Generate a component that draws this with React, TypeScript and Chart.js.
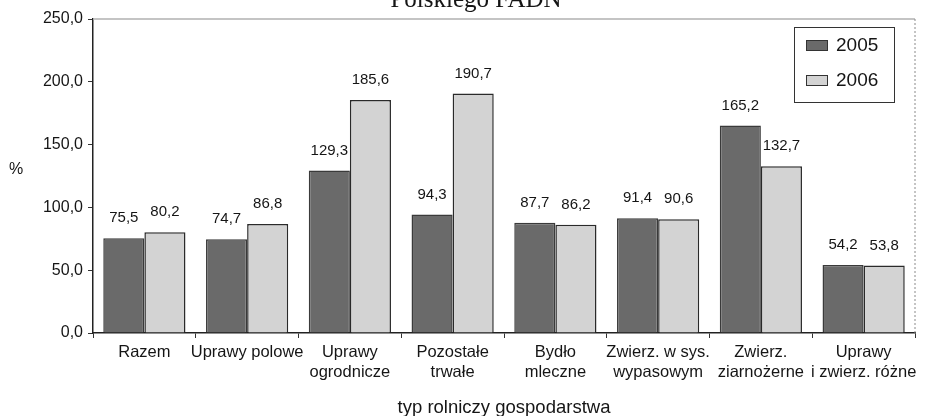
import React, { useEffect, useRef } from 'react';
import { Chart, registerables } from 'chart.js';

Chart.register(...registerables);

const categories: string[][] = [
  ['Razem'],
  ['Uprawy polowe'],
  ['Uprawy', 'ogrodnicze'],
  ['Pozostałe', 'trwałe'],
  ['Bydło', 'mleczne'],
  ['Zwierz. w sys.', 'wypasowym'],
  ['Zwierz.', 'ziarnożerne'],
  ['Uprawy', 'i zwierz. różne'],
];
const seriesNames = ['2005', '2006'];
const values2005 = [75.5, 74.7, 129.3, 94.3, 87.7, 91.4, 165.2, 54.2];
const values2006 = [80.2, 86.8, 185.6, 190.7, 86.2, 90.6, 132.7, 53.8];
const yMin = 0;
const yMax = 250;
const yStep = 50;
const titleText = 'Polskiego FADN';
const yTitle = '%';
const xTitle = 'typ rolniczy gospodarstwa';

const FONT = '"Liberation Sans", Arial, sans-serif';
const DARK = '#6a6a6a';
const LIGHT = '#d3d3d3';
const TEXT = '#151515';
const fmt = (v: number) => Number(v).toFixed(1).replace('.', ',');

const decor = {
  id: 'decor',
  afterDraw(chart: any) {
    const { ctx, chartArea: a } = chart;
    ctx.save();
    // title (cut at the top)
    ctx.fillStyle = TEXT;
    ctx.font = '25px "Liberation Serif", serif';
    ctx.textAlign = 'center';
    ctx.textBaseline = 'alphabetic';
    ctx.fillText(titleText, 476, 7);
    // y title
    ctx.font = `16px ${FONT}`;
    ctx.textBaseline = 'middle';
    ctx.fillText(yTitle, 16, 170);
    // top border
    ctx.strokeStyle = '#b0b0b0';
    ctx.lineWidth = 1.5;
    ctx.beginPath();
    ctx.moveTo(a.left, a.top);
    ctx.lineTo(a.right, a.top);
    ctx.stroke();
    // right border dotted
    ctx.strokeStyle = '#8a8a8a';
    ctx.lineWidth = 1;
    ctx.setLineDash([2, 2]);
    ctx.beginPath();
    ctx.moveTo(a.right, a.top);
    ctx.lineTo(a.right, a.bottom);
    ctx.stroke();
    ctx.setLineDash([]);
    // data labels
    ctx.font = `15px ${FONT}`;
    ctx.fillStyle = TEXT;
    ctx.textAlign = 'center';
    ctx.textBaseline = 'middle';
    chart.data.datasets.forEach((ds: any, i: number) => {
      const meta = chart.getDatasetMeta(i);
      meta.data.forEach((el: any, j: number) => {
        ctx.fillText(fmt(ds.data[j]), el.x, el.y - 20);
      });
    });
    // legend
    const lx = 794, ly = 27, lw = 100, lh = 75;
    ctx.fillStyle = '#fff';
    ctx.fillRect(lx, ly, lw, lh);
    ctx.strokeStyle = '#333';
    ctx.lineWidth = 1;
    ctx.strokeRect(lx + 0.5, ly + 0.5, lw, lh);
    ctx.font = `19px ${FONT}`;
    ctx.textAlign = 'left';
    chart.data.datasets.forEach((ds: any, i: number) => {
      const cy = 45 + i * 35;
      ctx.fillStyle = ds.backgroundColor;
      ctx.fillRect(806, cy - 5, 22, 10);
      ctx.strokeStyle = '#333';
      ctx.strokeRect(806.5, cy - 4.5, 21, 10);
      ctx.fillStyle = TEXT;
      ctx.fillText(ds.label, 836, cy + 1);
    });
    ctx.restore();
  },
};

export default function App() {
  const ref = useRef<HTMLCanvasElement | null>(null);
  useEffect(() => {
    if (!ref.current) return;
    const chart = new Chart(ref.current, {
      type: 'bar',
      data: {
        labels: categories,
        datasets: [
          {
            label: seriesNames[0],
            data: values2005,
            backgroundColor: DARK,
            borderColor: '#3a3a3a',
            borderWidth: 1.5,
            categoryPercentage: 0.8,
            barPercentage: 1.0,
          },
          {
            label: seriesNames[1],
            data: values2006,
            backgroundColor: LIGHT,
            borderColor: '#2a2a2a',
            borderWidth: 1.5,
            categoryPercentage: 0.8,
            barPercentage: 1.0,
          },
        ],
      },
      options: {
        animation: false,
        responsive: true,
        maintainAspectRatio: false,
        layout: { padding: { top: 19, right: 19, left: 0, bottom: 0 } },
        plugins: {
          legend: { display: false },
          tooltip: { enabled: false },
          title: { display: false },
        },
        scales: {
          x: {
            offset: true,
            grid: {
              offset: true,
              drawOnChartArea: false,
              drawTicks: true,
              tickLength: 5,
              color: '#333',
              tickColor: '#333',
            },
            border: { display: true, color: '#222', width: 1.5 },
            ticks: {
              font: { family: FONT, size: 16.5, lineHeight: 1.18 },
              color: TEXT,
              padding: 5,
              maxRotation: 0,
              autoSkip: false,
            },
            title: {
              display: true,
              text: xTitle,
              font: { family: FONT, size: 18.5 },
              color: TEXT,
              padding: { top: 4, bottom: -3 },
            },
            afterFit: (s: any) => {
              s.height = 83;
            },
          },
          y: {
            min: yMin,
            max: yMax,
            ticks: {
              stepSize: yStep,
              callback: (v: any) => fmt(v),
              font: { family: FONT, size: 16 },
              color: TEXT,
              padding: 5,
            },
            grid: { drawOnChartArea: false, tickLength: 5, color: '#333', tickColor: '#333' },
            border: { display: true, color: '#222', width: 1.5 },
            afterFit: (s: any) => {
              s.width = 93;
            },
          },
        },
      },
      plugins: [decor],
    } as any);
    return () => chart.destroy();
  }, []);
  return (
    <div style={{ position: 'absolute', left: 0, top: 0, width: 934, height: 416, background: '#fff' }}>
      <canvas ref={ref} />
    </div>
  );
}
